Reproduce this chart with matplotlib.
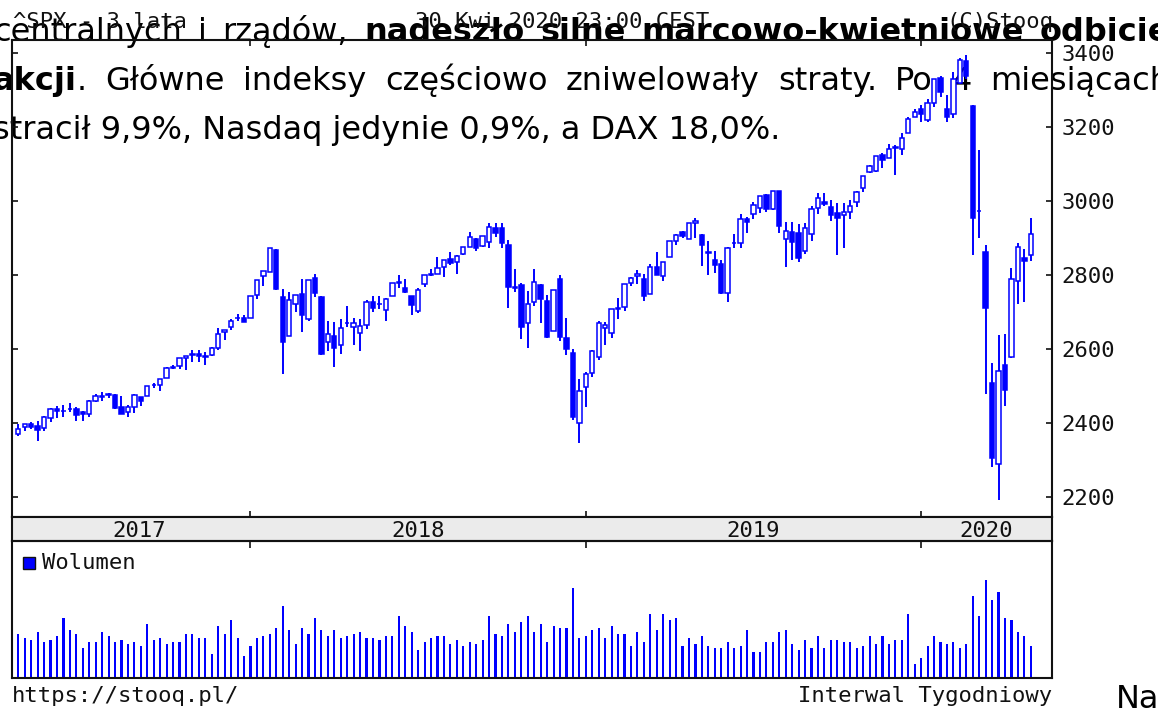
import numpy as np
import pandas as pd
import matplotlib
matplotlib.use("Agg")
import matplotlib.pyplot as plt
from matplotlib.patches import Rectangle

# ^SPX weekly candles, week ending 2017-04-28 .. 2020-04-30 (158 weeks)
weeks = pd.date_range("2017-04-28", periods=158, freq="W-FRI")

opens = [
    2370, 2389, 2399, 2393, 2387, 2415, 2437, 2432, 2437, 2439,
    2430, 2425, 2460, 2473, 2477, 2476, 2445, 2429, 2444, 2470,
    2474, 2502, 2503, 2521, 2550, 2555, 2576, 2583, 2588, 2580,
    2583, 2603, 2645, 2660, 2684, 2684,
    2683, 2745, 2798, 2809, 2867, 2741, 2636, 2722, 2750, 2681,
    2791, 2741, 2619, 2634, 2611, 2670, 2659, 2643, 2665, 2727,
    2723, 2705, 2742, 2781, 2765, 2742, 2704, 2775, 2799, 2804,
    2821, 2844, 2835, 2858, 2876, 2897, 2879, 2889, 2926, 2926,
    2882, 2764, 2773, 2670, 2726, 2773, 2730, 2649, 2790, 2630,
    2590, 2400,
    2498, 2535, 2580, 2657, 2644, 2712, 2713, 2779, 2798, 2790,
    2748, 2822, 2796, 2848, 2893, 2916, 2898, 2941, 2909, 2861,
    2841, 2831, 2751, 2886, 2887, 2952, 2964, 2980, 3017, 2977,
    3028, 2898, 2916, 2913, 2866, 2910, 2980, 2996, 2983, 2967,
    2962, 2971, 2996, 3035, 3078, 3081, 3123, 3117, 3143, 3141,
    3183, 3227,
    3247, 3218, 3264, 3333, 3247, 3235, 3318, 3378, 3257, 2974,
    2863, 2508, 2290, 2558, 2579, 2785, 2845, 2854,
]
highs = [
    2398, 2399, 2403, 2406, 2419, 2440, 2446, 2448, 2454, 2443,
    2433, 2463, 2479, 2484, 2481, 2480, 2474, 2450, 2480, 2471,
    2500, 2508, 2520, 2553, 2557, 2576, 2582, 2597, 2597, 2591,
    2605, 2657, 2651, 2680, 2695, 2692,
    2743, 2787, 2810, 2873, 2871, 2763, 2754, 2747, 2790, 2787,
    2802, 2742, 2675, 2672, 2680, 2717, 2683, 2682, 2732, 2742,
    2742, 2737, 2779, 2801, 2790, 2743, 2764, 2801, 2816, 2848,
    2840, 2863, 2853, 2876, 2916, 2901, 2906, 2941, 2940, 2940,
    2894, 2817, 2778, 2756, 2815, 2775, 2747, 2760, 2800, 2685,
    2601, 2520,
    2538, 2598, 2675, 2672, 2708, 2738, 2776, 2794, 2813, 2804,
    2831, 2861, 2836, 2893, 2910, 2918, 2940, 2954, 2912, 2892,
    2865, 2841, 2876, 2911, 2964, 2957, 2996, 3014, 3018, 3028,
    3028, 2944, 2943, 2939, 2940, 2985, 3021, 3022, 3002, 2993,
    2993, 3003, 3028, 3067, 3098, 3121, 3128, 3154, 3150, 3183,
    3226, 3248,
    3258, 3275, 3330, 3338, 3285, 3348, 3385, 3393, 3259, 3137,
    2882, 2562, 2637, 2641, 2819, 2886, 2870, 2955,
]
lows = [
    2366, 2378, 2384, 2353, 2379, 2403, 2415, 2418, 2430, 2405,
    2407, 2416, 2456, 2459, 2467, 2437, 2425, 2417, 2428, 2446,
    2474, 2496, 2488, 2521, 2545, 2545, 2544, 2566, 2566, 2557,
    2581, 2598, 2624, 2651, 2676, 2673,
    2683, 2736, 2769, 2808, 2759, 2533, 2635, 2700, 2647, 2675,
    2741, 2585, 2594, 2553, 2587, 2660, 2612, 2594, 2655, 2701,
    2707, 2676, 2742, 2764, 2752, 2692, 2698, 2767, 2796, 2802,
    2795, 2827, 2802, 2853, 2876, 2864, 2875, 2874, 2903, 2874,
    2710, 2755, 2628, 2603, 2717, 2670, 2631, 2649, 2621, 2583,
    2409, 2347,
    2444, 2525, 2570, 2612, 2631, 2681, 2703, 2769, 2775, 2729,
    2748, 2800, 2785, 2848, 2880, 2899, 2898, 2900, 2825, 2801,
    2805, 2750, 2728, 2873, 2874, 2913, 2952, 2966, 2970, 2976,
    2914, 2822, 2840, 2834, 2856, 2891, 2964, 2985, 2945, 2855,
    2874, 2952, 2984, 3023, 3074, 3078, 3090, 3117, 3070, 3124,
    3183, 3226,
    3213, 3212, 3253, 3280, 3214, 3223, 3316, 3328, 2855, 2901,
    2479, 2281, 2192, 2447, 2575, 2723, 2727, 2839,
]
closes = [
    2384, 2399, 2391, 2382, 2416, 2439, 2432, 2433, 2438, 2423,
    2425, 2459, 2473, 2472, 2476, 2441, 2426, 2443, 2477, 2461,
    2500, 2502, 2519, 2549, 2553, 2575, 2581, 2588, 2582, 2579,
    2602, 2642, 2652, 2676, 2683, 2674,
    2743, 2786, 2810, 2873, 2762, 2620, 2732, 2747, 2691, 2786,
    2752, 2588, 2641, 2604, 2656, 2670, 2670, 2663, 2728, 2712,
    2721, 2735, 2779, 2779, 2755, 2718, 2760, 2801, 2802, 2819,
    2840, 2833, 2850, 2875, 2902, 2872, 2905, 2930, 2914, 2886,
    2767, 2768, 2659, 2723, 2781, 2736, 2633, 2760, 2633, 2600,
    2417, 2486,
    2532, 2596, 2671, 2665, 2707, 2708, 2776, 2793, 2804, 2743,
    2822, 2800, 2834, 2893, 2907, 2905, 2940, 2946, 2881, 2860,
    2826, 2752, 2873, 2887, 2950, 2942, 2990, 3014, 2977, 3026,
    2932, 2919, 2889, 2847, 2926, 2979, 3007, 2992, 2962, 2953,
    2970, 2986, 3023, 3067, 3093, 3120, 3110, 3141, 3146, 3169,
    3221, 3240,
    3235, 3265, 3330, 3295, 3226, 3328, 3380, 3338, 2954, 2972,
    2711, 2305, 2541, 2489, 2790, 2876, 2837, 2912,
]
# weekly volume (bn shares)
volume = [
    13.2, 11.9, 11.3, 13.8, 10.7, 11.3, 12.5, 18.0, 14.4, 13.2,
    9.0, 10.7, 10.7, 13.8, 12.5, 10.7, 11.3, 10.1, 10.7, 9.5,
    16.2, 11.3, 11.9, 10.1, 10.7, 10.7, 13.2, 13.2, 11.9, 11.9,
    7.1, 15.5, 13.2, 17.4, 11.9, 6.5,
    9.5, 11.9, 12.5, 13.2, 15.0, 21.6, 14.4, 10.1, 15.0, 13.2,
    18.0, 14.4, 12.5, 14.4, 11.9, 12.5, 13.2, 13.8, 11.9, 11.9,
    11.3, 12.5, 12.5, 18.6, 15.5, 13.8, 8.3, 10.7, 11.9, 12.5,
    12.5, 10.1, 11.3, 9.5, 10.7, 10.1, 11.3, 18.6, 13.2, 12.5,
    16.2, 13.8, 16.8, 18.6, 13.8, 16.2, 10.7, 15.5, 15.0, 15.0,
    27.0, 11.9,
    12.5, 14.4, 15.0, 11.9, 15.5, 13.2, 13.2, 9.5, 13.8, 10.7,
    19.2, 14.4, 19.2, 17.4, 18.0, 9.5, 11.9, 10.1, 12.5, 9.5,
    8.9, 8.9, 10.7, 8.9, 9.5, 14.4, 7.7, 7.7, 10.7, 10.7,
    13.8, 14.4, 10.1, 8.3, 11.3, 8.9, 12.5, 8.9, 11.3, 11.3,
    10.7, 10.7, 8.9, 9.5, 12.5, 10.1, 12.5, 10.1, 11.3, 11.3,
    19.2, 4.1,
    5.9, 9.5, 12.5, 10.7, 10.1, 10.7, 8.9, 10.1, 24.5, 18.6,
    29.4, 23.4, 25.8, 18.0, 17.4, 13.8, 12.5, 9.5,
]
price_ticks = [2200, 2400, 2600, 2800, 3000, 3200, 3400]

BLUE = "#0000ff"
INK = "#111111"
W, H = 1158, 708

plt.rcParams["font.family"] = "DejaVu Sans Mono"


def fx(px):
    return px / W


def fy(py):
    return 1 - py / H


fig = plt.figure(figsize=(W / 100, H / 100), dpi=100, facecolor="white")

left, right = 12, 1052
ax = fig.add_axes([fx(left), fy(517), fx(right) - fx(left), fy(40) - fy(517)])
band = fig.add_axes([fx(left), fy(541), fx(right) - fx(left), fy(517) - fy(541)])
axv = fig.add_axes([fx(left), fy(678), fx(right) - fx(left), fy(541) - fy(678)])

o = np.array(opens, dtype=float)
h = np.array(highs, dtype=float)
l = np.array(lows, dtype=float)
c = np.array(closes, dtype=float)
x = np.arange(len(weeks))
up = c >= o

# one week = 6.449 px, first candle 6.3 px right of the frame
xlim = ((left - 18.3) / 6.449, (right - 18.3) / 6.449)
years = weeks.year.values
bounds = list(np.where(np.diff(years) != 0)[0] + 1)

# candles: hollow when up, filled when down
ax.vlines(x, l, h, color=BLUE, lw=1.4, zorder=2)
ax.bar(x, np.maximum(np.abs(c - o), 1.5), bottom=np.minimum(o, c), width=0.68,
       color=np.where(up, "white", BLUE), edgecolor=BLUE, linewidth=1.1, zorder=3)
ax.set_xlim(*xlim)
ax.set_ylim(2146.8, 3434.3)
ax.set_facecolor("none")
ax.set_xticks(bounds)
ax.set_yticks(price_ticks)
ax.tick_params(axis="x", direction="in", length=4.5, width=1.2, top=True,
               bottom=True, labelbottom=False, color=INK)
ax.tick_params(axis="y", direction="in", length=4, width=1.2, left=True,
               right=True, labelleft=False, labelright=True, labelsize=16,
               pad=7, colors=INK)

# year strip, labels centred on each year's visible candles
band.set_facecolor("#ebebeb")
band.set_xlim(*xlim)
band.set_ylim(0, 1)
band.set_xticks([])
band.set_yticks([])
edges = [x[0] + 1.4] + bounds + [xlim[1]]
for yr, a, b in zip(sorted(set(years)), edges[:-1], edges[1:]):
    band.text((a + b) / 2, 4 / 24, str(yr), ha="center", va="baseline",
              fontsize=16, color=INK)

# volume
axv.bar(x, volume, width=0.33, color=BLUE, zorder=2)
axv.set_xlim(*xlim)
axv.set_ylim(0, 41.1)
axv.set_facecolor("none")
axv.set_xticks(bounds)
axv.set_yticks([])
axv.tick_params(axis="x", direction="in", length=5, width=1.2, top=True,
                bottom=False, labelbottom=False, color=INK)

for a in (ax, band, axv):
    for s in a.spines.values():
        s.set_linewidth(1.5)
        s.set_color(INK)

fig.patches.append(Rectangle((fx(23), fy(568.5)), fx(12), fy(556.5) - fy(568.5),
                             transform=fig.transFigure, facecolor=BLUE,
                             edgecolor=INK, lw=1))
fig.text(fx(42), fy(569), "Wolumen", fontsize=16, va="baseline", color=INK)

# header and footer
fig.text(fx(13), fy(28), "^SPX - 3 lata", fontsize=16, va="baseline", color=INK)
fig.text(fx(562.5), fy(28), "30 Kwi 2020 23:00 CEST", fontsize=16,
         ha="center", va="baseline", color=INK)
fig.text(fx(1053), fy(28), "(C)Stooq", fontsize=16, ha="right",
         va="baseline", color=INK)
fig.text(fx(12), fy(702), "https://stooq.pl/", fontsize=16, va="baseline",
         color=INK)
fig.text(fx(1052), fy(702), "Interwal Tygodniowy", fontsize=16, ha="right",
         va="baseline", color=INK)

# article text running behind the chart (justified paragraph)
ARTICLE = dict(family="DejaVu Sans", fontsize=23, color="#000000",
               va="baseline", zorder=-1)
renderer = fig.canvas.get_renderer()
PAR_LEFT, PAR_RIGHT = -7, 1170


def justify(words, baseline):
    # words: list of words, each a list of (text, weight) pieces
    placed = []
    for pieces in words:
        arts = [fig.text(0, fy(baseline), t, fontweight=wt, **ARTICLE)
                for t, wt in pieces]
        widths = [a.get_window_extent(renderer).width for a in arts]
        placed.append((arts, widths))
    total = sum(sum(w) for _, w in placed)
    gap = (PAR_RIGHT - PAR_LEFT - total) / (len(placed) - 1)
    pos = PAR_LEFT
    for arts, widths in placed:
        for a, w in zip(arts, widths):
            a.set_x(fx(pos))
            pos += w
        pos += gap


N, B = "normal", "bold"
justify([[("centralnych", N)], [("i", N)], [("rządów,", N)],
         [("nadeszło", B)], [("silne", B)], [("marcowo-kwietniowe", B)],
         [("odbicie", B)]], 41)
justify([[("akcji", B), (".", N)], [("Główne", N)], [("indeksy", N)],
         [("częściowo", N)], [("zniwelowały", N)], [("straty.", N)],
         [("Po", N)], [("4", N)], [("miesiącach", N)]], 90)
fig.text(fx(PAR_LEFT), fy(138.5),
         "stracił 9,9%, Nasdaq jedynie 0,9%, a DAX 18,0%.", **ARTICLE)
fig.text(fx(1116), fy(708), "Na", **ARTICLE)

fig.savefig("out.png", dpi=100, facecolor="white")
